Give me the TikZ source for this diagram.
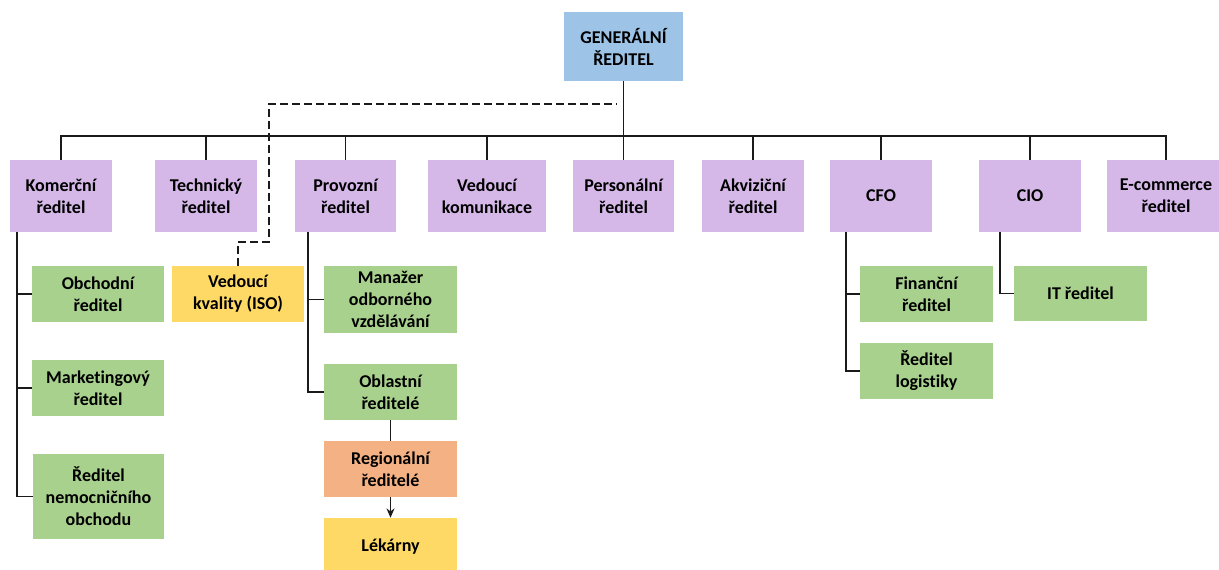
\documentclass[tikz,border=0pt]{standalone}
\usepackage{fontspec}
\setmainfont{Carlito}[Ligatures={NoCommon}]
\usetikzlibrary{arrows.meta}
\definecolor{ceo}{HTML}{9DC3E6}
\definecolor{head}{HTML}{D5B8E8}
\definecolor{sub}{HTML}{A9D18E}
\definecolor{gold}{HTML}{FFD966}
\definecolor{peach}{HTML}{F4B183}
\definecolor{wire}{HTML}{1A1A1A}
\begin{document}
\begin{tikzpicture}[x=0.75pt,y=-0.75pt,
  box/.style={inner sep=0pt, align=center, text=black,
    font=\fontsize{13.5}{16.5}\selectfont\bfseries},
  wh/.style 2 args={minimum width=#1*0.75pt, minimum height=#2*0.75pt},
  link/.style={draw=wire, line width=1.1pt},
  dotted link/.style={draw=wire, line width=1.1pt, dash pattern=on 5.5pt off 3.5pt}]
\useasboundingbox (0,0) rectangle (1219,569);

% top
\node[box, fill=ceo, wh={119}{69}] (gen) at (623.5,46.5) {GENERÁLNÍ\\ŘEDITEL};

% first level
\node[box, fill=head, wh={102}{72}] (kom)  at (61,196)   {Komerční\\ředitel};
\node[box, fill=head, wh={102}{72}] (tech) at (206,196)  {Technický\\ředitel};
\node[box, fill=head, wh={101}{72}] (prov) at (345.5,196) {Provozní\\ředitel};
\node[box, fill=head, wh={118}{72}] (komu) at (487,196)  {Vedoucí\\komunikace};
\node[box, fill=head, wh={101}{72}] (pers) at (623.5,196) {Personální\\ředitel};
\node[box, fill=head, wh={102}{72}] (akv)  at (753,196)  {Akviziční\\ředitel};
\node[box, fill=head, wh={102}{72}] (cfo)  at (881,196)  {CFO};
\node[box, fill=head, wh={102}{72}] (cio)  at (1030,196) {CIO};
\node[box, fill=head, wh={118}{72}] (ecom) at (1166,196) {E-commerce\\ředitel};

% second level
\node[box, fill=sub, wh={132}{56}] (obch) at (98,294)   {Obchodní\\ředitel};
\node[box, fill=sub, wh={132}{56}] (mark) at (98,388)   {Marketingový\\ředitel};
\node[box, fill=sub, wh={131}{85}] (nem)  at (98.5,496.5) {Ředitel\\nemocničního\\obchodu};
\node[box, fill=gold, wh={132}{56}] (kval) at (238,294) {Vedoucí\\kvality (ISO)};
\node[box, fill=sub, wh={133}{67}] (man)  at (390.5,299.5) {Manažer\\odborného\\vzdělávání};
\node[box, fill=sub, wh={133}{56}] (obl)  at (390.5,392) {Oblastní\\ředitelé};
\node[box, fill=peach, wh={133}{56}] (reg) at (390.5,469) {Regionální\\ředitelé};
\node[box, fill=gold, wh={133}{58}] (lek) at (390.5,547) {Lékárny};
\node[box, fill=sub, wh={133}{56}] (fin)  at (926.5,294) {Finanční\\ředitel};
\node[box, fill=sub, wh={133}{56}] (log)  at (926.5,371) {Ředitel\\logistiky};
\node[box, fill=sub, wh={133}{55}] (it)   at (1080.5,293.5) {IT ředitel};

% bus under the top box
\coordinate (bus) at (0,136);
\foreach \c in {kom,tech,prov,komu,pers,akv,cfo,cio,ecom}
  \draw[link] (gen.south) -- (gen.south |- bus) -| (\c.north);

% left-side spines
\coordinate (komsp) at (17,232);
\coordinate (provsp) at (308,232);
\coordinate (cfosp) at (846,232);
\coordinate (ciosp) at (1000,232);
\foreach \c in {obch,mark,nem} \draw[link] (komsp) |- (\c.west);
\foreach \c in {man,obl} \draw[link] (provsp) |- (\c.west);
\foreach \c in {fin,log} \draw[link] (cfosp) |- (\c.west);
\draw[link] (ciosp) |- (it.west);

% chain below the area managers
\draw[link] (obl.south) -- (reg.north);
\draw[link, -{Stealth[length=7pt,width=6pt]}] (reg.south) -- (lek.north);

% dashed reporting line to quality
\coordinate (dq1) at (269,242);
\coordinate (dq2) at (617,104);
\draw[dotted link] (kval.north) |- (dq1) |- (dq2);
\end{tikzpicture}
\end{document}
